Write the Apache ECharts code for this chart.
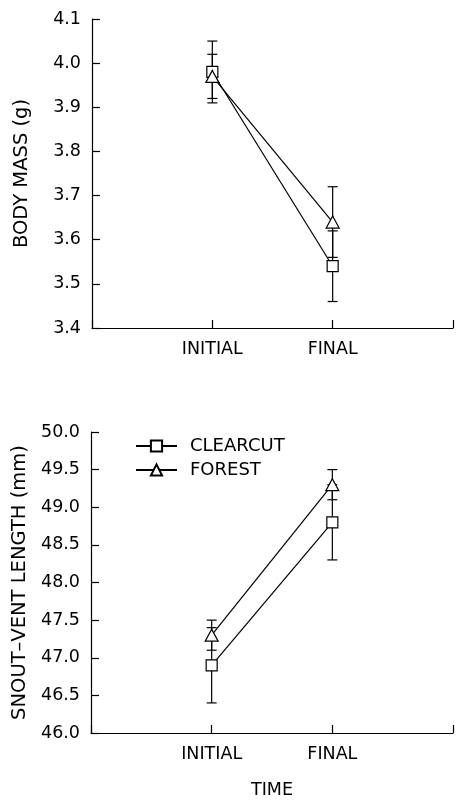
<!DOCTYPE html>
<html>
<head>
<meta charset="utf-8">
<script src="https://cdn.jsdelivr.net/npm/echarts@6/dist/echarts.min.js"></script>
<style>
html,body{margin:0;padding:0;background:#fff;}
#c{width:456px;height:800px;}
</style>
</head>
<body>
<div id="c"></div>
<script>
// Data
const categories = ['INITIAL', 'FINAL'];
const seriesNames = ['CLEARCUT', 'FOREST'];
const massClearcut = [3.98, 3.54];
const massClearcutErr = [0.07, 0.08];
const massForest = [3.97, 3.64];
const massForestErr = [0.05, 0.08];
const svlClearcut = [46.9, 48.8];
const svlClearcutErr = [0.5, 0.5];
const svlForest = [47.3, 49.3];
const svlForestErr = [0.2, 0.2];
const massTicks = [3.4, 4.1, 0.1];
const svlTicks = [46.0, 50.0, 0.5];

const FONT = '"DejaVu Sans", sans-serif';
const FS = 17.5;
const NAME_FS = 19.5;

function pts(vals) { return vals.map((v, i) => [i + 1, v]); }
function errs(vals, e) { return vals.map((v, i) => [i + 1, v - e[i], v + e[i]]); }

function errSeries(vals, e, idx) {
  return {
    type: 'custom',
    xAxisIndex: idx, yAxisIndex: idx,
    z: 1,
    silent: true,
    data: errs(vals, e),
    renderItem: function (params, api) {
      const x = api.value(0);
      const lo = api.coord([x, api.value(1)]);
      const hi = api.coord([x, api.value(2)]);
      const hw = 5;
      const style = { stroke: '#000', lineWidth: 1.2, fill: null };
      return {
        type: 'group',
        children: [
          { type: 'line', shape: { x1: lo[0], y1: lo[1], x2: hi[0], y2: hi[1] }, style: style },
          { type: 'line', shape: { x1: lo[0] - hw, y1: lo[1], x2: lo[0] + hw, y2: lo[1] }, style: style },
          { type: 'line', shape: { x1: hi[0] - hw, y1: hi[1], x2: hi[0] + hw, y2: hi[1] }, style: style }
        ]
      };
    }
  };
}

function lineSeries(name, vals, idx, symbol) {
  return {
    type: 'line',
    name: name,
    xAxisIndex: idx, yAxisIndex: idx,
    z: 3,
    data: pts(vals),
    symbol: symbol,
    symbolSize: symbol === 'rect' ? 11 : [13, 12],
    showAllSymbol: true,
    lineStyle: { color: '#000', width: 1.2 },
    itemStyle: { color: '#fff', borderColor: '#000', borderWidth: 1.2 },
    emphasis: { disabled: true },
    animation: false
  };
}

function xAxis(idx, name) {
  return {
    type: 'value', gridIndex: idx, min: 0, max: 3, interval: 1,
    name: name || '', nameLocation: 'middle', nameGap: 48,
    nameTextStyle: { fontFamily: FONT, fontSize: FS, color: '#000' },
    axisLine: { lineStyle: { color: '#000', width: 1.2 } },
    axisTick: { inside: true, length: 8, lineStyle: { color: '#000', width: 1.2 } },
    axisLabel: {
      margin: 12, fontFamily: FONT, fontSize: FS, color: '#000',
      formatter: v => (v >= 1 && v <= categories.length && Number.isInteger(v)) ? categories[v - 1] : ''
    },
    splitLine: { show: false }
  };
}

function yAxis(idx, t, name, gap) {
  return {
    type: 'value', gridIndex: idx, min: t[0], max: t[1], interval: t[2],
    name: name, nameLocation: 'middle', nameGap: gap, nameRotate: 90,
    nameTextStyle: { fontFamily: FONT, fontSize: NAME_FS, color: '#000' },
    axisLine: { show: true, lineStyle: { color: '#000', width: 1.2 } },
    axisTick: { show: true, inside: true, length: 8, lineStyle: { color: '#000', width: 1.2 } },
    axisLabel: { margin: 11, fontFamily: FONT, fontSize: FS, color: '#000', formatter: v => v.toFixed(1) },
    splitLine: { show: false }
  };
}

const chart = echarts.init(document.getElementById('c'), null, { renderer: 'canvas' });
chart.setOption({
  backgroundColor: '#fff',
  animation: false,
  grid: [
    { left: 92, top: 19, right: 1, height: 309 },
    { left: 91, top: 432, right: 2, height: 309 }
  ],
  legend: {
    show: true,
    data: seriesNames.map(n => ({ name: n })),
    orient: 'vertical',
    left: 135, top: 437, padding: 0,
    itemWidth: 41, itemHeight: 14, itemGap: 6,
    textStyle: { fontFamily: FONT, fontSize: 18, color: '#000', padding: [0, 0, 0, 8] },
    selectedMode: false
  },
  xAxis: [xAxis(0), xAxis(1, 'TIME')],
  yAxis: [yAxis(0, massTicks, 'BODY MASS (g)', 60), yAxis(1, svlTicks, 'SNOUT–VENT LENGTH (mm)', 59)],
  series: [
    errSeries(massClearcut, massClearcutErr, 0),
    errSeries(massForest, massForestErr, 0),
    lineSeries('CLEARCUT', massClearcut, 0, 'rect'),
    lineSeries('FOREST', massForest, 0, 'triangle'),
    errSeries(svlClearcut, svlClearcutErr, 1),
    errSeries(svlForest, svlForestErr, 1),
    lineSeries('CLEARCUT', svlClearcut, 1, 'rect'),
    lineSeries('FOREST', svlForest, 1, 'triangle')
  ]
});
</script>
</body>
</html>
